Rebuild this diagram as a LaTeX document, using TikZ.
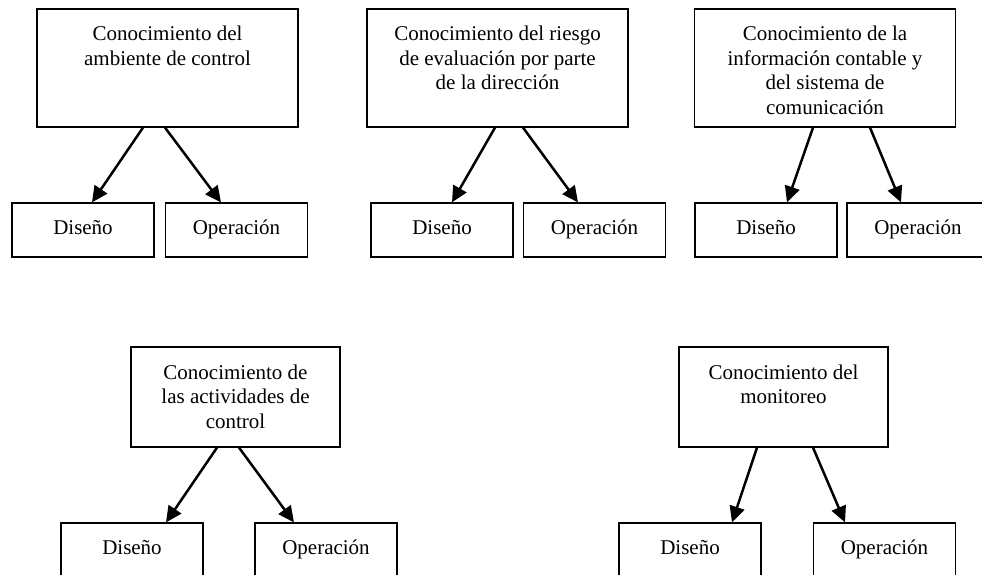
\documentclass[tikz,border=0pt]{standalone}
\usepackage{fontspec}
\setmainfont{Liberation Serif}
\usetikzlibrary{positioning,arrows.meta}
\begin{document}
\begin{tikzpicture}[x=1pt,y=-1pt,
  bigbox/.style={draw, line width=1.2pt, minimum width=261pt, minimum height=118pt, inner sep=0pt},
  midbox/.style={bigbox, minimum width=209pt, minimum height=100pt},
  smallbox/.style={draw, line width=1.2pt, minimum width=142pt, minimum height=54pt, inner sep=0pt, text height=14pt, text depth=5pt, font=\fontsize{21}{25}\selectfont},
  boxtext/.style={align=center, inner sep=0pt, font=\fontsize{21}{24.5}\selectfont},
  flecha/.style={-{Triangle[length=16pt,width=15pt]}, line width=2.5pt}]
\useasboundingbox (0,0) rectangle (982,575);
% fila de arriba
\node[bigbox] (amb) at (167.5,68){};
\node[boxtext, below=17.5pt of amb.north] (amb-t) {Conocimiento del\\ambiente de control};
\node[smallbox] (amb-d) at (83,230){Diseño};
\node[smallbox] (amb-o) at (236.5,230){Operación};
\draw[flecha] ([xshift=-24.5pt]amb.south) -- ([xshift=9pt]amb-d.north);
\draw[flecha] ([xshift=-2.5pt]amb.south) -- ([xshift=-15.5pt]amb-o.north);
\node[bigbox] (rie) at (497.5,68){};
\node[boxtext, below=17.5pt of rie.north] (rie-t) {Conocimiento del riesgo\\de evaluación por parte\\de la dirección};
\node[smallbox] (rie-d) at (442,230){Diseño};
\node[smallbox] (rie-o) at (594.5,230){Operación};
\draw[flecha] ([xshift=-2.5pt]rie.south) -- ([xshift=10pt]rie-d.north);
\draw[flecha] ([xshift=25.5pt]rie.south) -- ([xshift=-16.5pt]rie-o.north);
\node[bigbox] (inf) at (825,68){};
\node[boxtext, below=17.5pt of inf.north] (inf-t) {Conocimiento de la\\información contable y\\del sistema de\\comunicación};
\node[smallbox] (inf-d) at (766,230){Diseño};
\node[smallbox] (inf-o) at (918,230){Operación};
\draw[flecha] ([xshift=-12pt]inf.south) -- ([xshift=21pt]inf-d.north);
\draw[flecha] ([xshift=45pt]inf.south) -- ([xshift=-17pt]inf-o.north);
% fila de abajo
\node[midbox] (act) at (235.5,397){};
\node[boxtext, below=18pt of act.north] (act-t) {Conocimiento de\\las actividades de\\control};
\node[smallbox] (act-d) at (132,550){Diseño};
\node[smallbox] (act-o) at (326,550){Operación};
\draw[flecha] ([xshift=-18.5pt]act.south) -- ([xshift=34pt]act-d.north);
\draw[flecha] ([xshift=3.5pt]act.south) -- ([xshift=-32pt]act-o.north);
\node[midbox] (mon) at (783.5,397){};
\node[boxtext, below=18pt of mon.north] (mon-t) {Conocimiento del\\monitoreo};
\node[smallbox] (mon-d) at (690,550){Diseño};
\node[smallbox] (mon-o) at (884.5,550){Operación};
\draw[flecha] ([xshift=-26.5pt]mon.south) -- ([xshift=42pt]mon-d.north);
\draw[flecha] ([xshift=29.5pt]mon.south) -- ([xshift=-39.5pt]mon-o.north);
\end{tikzpicture}
\end{document}
